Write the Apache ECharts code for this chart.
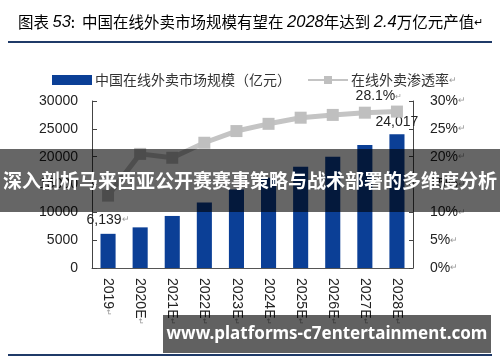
<!DOCTYPE html>
<html>
<head>
<meta charset="utf-8">
<script src="https://cdn.jsdelivr.net/npm/echarts@6/dist/echarts.min.js"></script>
<style>html,body{margin:0;padding:0;background:#fff}#c{width:500px;height:362px}</style>
</head>
<body>
<div id="c"></div>
<script>
var categories = ['2019','2020E','2021E','2022E','2023E','2024E','2025E','2026E','2027E','2028E'];
var marketSize = [6139, 7300, 9350, 11750, 14100, 16200, 18200, 20000, 22100, 24017];
var penetration = [13.0, 20.5, 19.8, 22.5, 24.6, 25.9, 27.0, 27.5, 27.9, 28.1];
var leftTicks = [0, 5000, 10000, 15000, 20000, 25000, 30000];
var rightTicks = [0, 5, 10, 15, 20, 25, 30];
var seriesNames = ['中国在线外卖市场规模（亿元）', '在线外卖渗透率'];
var titleParts = ['图表 ', '53', ':  中国在线外卖市场规模有望在 ', '2028', '年达到 ', '2.4', '万亿元产值'];
var bannerText = '深入剖析马来西亚公开赛赛事策略与战术部署的多维度分析';
var footerText = 'www.platforms-c7entertainment.com';

var cjk = '"Noto Sans CJK SC", "Noto Sans", sans-serif';
var num = '"Liberation Sans", Arial, sans-serif';
var RET = '\u21B5';
var lastIdx = categories.length - 1;

var barData = marketSize.map(function (v, i) {
  var d = { value: v };
  if (i === 0 || i === lastIdx) {
    d.label = {
      show: true, position: 'top', distance: i === 0 ? 7 : 5,
      formatter: function (p) {
        var s = p.value.toLocaleString('en-US');
        return p.dataIndex === 0 ? s + '{r|' + RET + '}' : s;
      },
      fontFamily: num, fontSize: 14, color: '#222',
      rich: { r: { fontSize: 9, color: '#999' } }
    };
  }
  return d;
});
var lineData = penetration.map(function (v, i) {
  var d = { value: v };
  if (i === lastIdx) {
    d.label = {
      show: true, position: 'top', offset: [-18, 0], distance: 2,
      formatter: function (p) { return p.value.toFixed(1) + '%{r|' + RET + '}'; },
      fontFamily: num, fontSize: 14, color: '#222',
      rich: { r: { fontSize: 8, color: '#999' } }
    };
  }
  return d;
});

var titleRich = {
  n: { fontFamily: cjk, fontSize: 15.5, color: '#4a5868' },
  i: { fontFamily: num, fontSize: 16.5, fontStyle: 'italic', color: '#34495e' },
  r: { fontSize: 11, color: '#999' }
};
var titleStr = titleParts.map(function (t, k) { return (k % 2 === 1 ? '{i|' : '{n|') + t + '}'; }).join('') + '{r|' + RET + '}';

var chart = echarts.init(document.getElementById('c'), null, { renderer: 'canvas' });
chart.setOption({
  animation: false,
  backgroundColor: '#fff',
  legend: {
    left: 47, top: 68, itemWidth: 40, itemHeight: 10, itemGap: 16,
    textStyle: { fontFamily: cjk, fontSize: 14, color: '#333', padding: [0, 0, 0, -2],
      rich: { r: { fontSize: 9, color: '#999' } } },
    formatter: function (n) { return n === seriesNames[1] ? n + '{r|' + RET + '}' : n; },
    data: [
      { name: seriesNames[0], icon: 'rect' },
      { name: seriesNames[1] }
    ]
  },
  textStyle: { fontFamily: num },
  grid: { left: 92, right: 87, top: 101, bottom: 94 },
  xAxis: {
    type: 'category', data: categories,
    axisLine: { lineStyle: { color: '#555', width: 1 } },
    axisTick: { inside: true, length: 4, lineStyle: { color: '#555' } },
    axisLabel: {
      rotate: -90, margin: 10, fontFamily: num, fontSize: 14, color: '#222',
      formatter: function (v) { return v + '{r|' + RET + '}'; },
      rich: { r: { fontSize: 8, color: '#999' } }
    }
  },
  yAxis: [{
    type: 'value', min: 0, max: 30000, interval: 5000,
    splitLine: { show: false },
    axisLine: { show: true, lineStyle: { color: '#444' } },
    axisTick: { show: true, inside: true, length: 5, lineStyle: { color: '#444' } },
    axisLabel: {
      margin: 14, fontFamily: num, fontSize: 14, color: '#222',
      formatter: function (v) { return leftTicks.indexOf(v) >= 0 ? String(v) : ''; }
    }
  }, {
    type: 'value', min: 0, max: 30, interval: 5,
    splitLine: { show: false },
    axisLine: { show: true, lineStyle: { color: '#444' } },
    axisTick: { show: true, inside: true, length: 4, lineStyle: { color: '#444' } },
    axisLabel: {
      margin: 17, fontFamily: num, fontSize: 14, color: '#222',
      formatter: function (v) { return rightTicks.indexOf(v) >= 0 ? v + '%{r|' + RET + '}' : ''; },
      rich: { r: { fontSize: 9, color: '#999' } }
    }
  }],
  series: [{
    name: seriesNames[0], type: 'bar', data: barData, barWidth: '47%',
    itemStyle: { color: '#0b3f96' }, z: 2
  }, {
    name: seriesNames[1], type: 'line', yAxisIndex: 1, data: lineData,
    symbol: 'rect', symbolSize: 12, showAllSymbol: true,
    lineStyle: { color: '#c4c4c4', width: 5 },
    itemStyle: { color: '#bfbfbf' }, z: 3
  }],
  graphic: [
    { type: 'text', left: 18, top: 14, z: 10,
      style: { text: titleStr, rich: titleRich } },
    { type: 'rect', shape: { x: 8, y: 41, width: 484, height: 2 }, style: { fill: '#1f3a68' }, z: 10 },
    { type: 'rect', shape: { x: 8, y: 354, width: 484, height: 2 }, style: { fill: '#1f3a68' }, z: 10 },
    { type: 'rect', shape: { x: 0, y: 149, width: 500, height: 63 }, style: { fill: 'rgba(0,0,0,0.6)' }, z: 20 },
    { type: 'text', x: 250, y: 181, z: 21,
      style: { text: bannerText, fill: '#fff', fontFamily: cjk, fontWeight: 'bold', fontSize: 19, align: 'center', verticalAlign: 'middle' } },
    { type: 'rect', shape: { x: 163, y: 315, width: 328, height: 38 }, style: { fill: 'rgba(0,0,0,0.62)' }, z: 20 },
    { type: 'text', x: 327, y: 334, z: 21,
      style: { text: footerText, fill: '#fff', fontFamily: '"Noto Sans", sans-serif', fontWeight: 'bold', fontSize: 17, align: 'center', verticalAlign: 'middle' } }
  ]
});
</script>
</body>
</html>
